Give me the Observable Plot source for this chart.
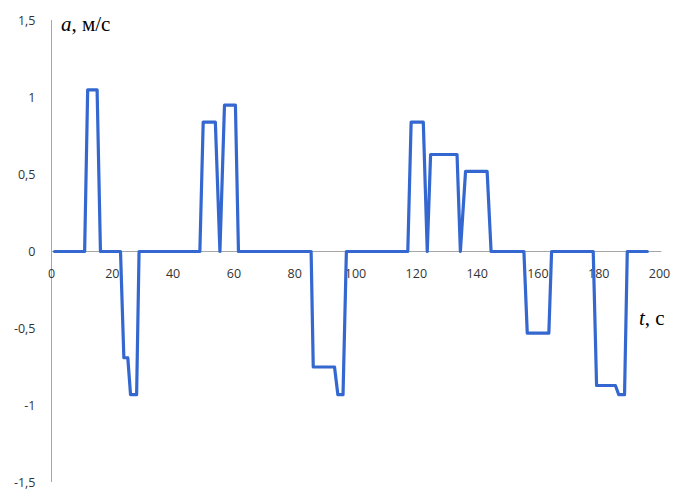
<!DOCTYPE html>
<html><head><meta charset="utf-8">
<script src="https://cdn.jsdelivr.net/npm/d3@7"></script>
<script src="https://cdn.jsdelivr.net/npm/@observablehq/plot@0.6"></script>
<style>
html,body{margin:0;padding:0;background:#fff;}
#wrap{position:relative;width:673px;height:490px;}
.lab{position:absolute;font-family:"Liberation Serif","DejaVu Serif",serif;color:#000;white-space:nowrap;}
</style>
</head><body>
<div id="wrap"></div>
<script>
// time, s
const tValues = [1,10.9,11.9,15,16.1,22.7,23.8,25.1,26,28,28.8,48.8,49.9,53.9,55.4,56.9,60.5,61.5,85.4,86.1,93.1,94.2,95.9,97,117.2,118.3,122.3,123.6,124.7,133.4,134.5,136.2,143.3,144.6,155.4,156.5,163.6,164.5,178.2,179.3,185.5,186.6,188.5,189.4,196];
// acceleration, m/s^2
const aValues = [0,0,1.05,1.05,0,0,-0.69,-0.69,-0.93,-0.93,0,0,0.84,0.84,0,0.95,0.95,0,0,-0.75,-0.75,-0.93,-0.93,0,0,0.84,0.84,0,0.63,0.63,0,0.52,0.52,0,0,-0.53,-0.53,0,0,-0.87,-0.87,-0.93,-0.93,0,0];
const xTicks = [0,20,40,60,80,100,120,140,160,180,200];
const yTicks = [-1.5,-1,-0.5,0,0.5,1,1.5];
const yLabel = ["a", ", м/с"];
const xLabel = ["t", ", с"];

const data = tValues.map((t,i)=>({t, a:aValues[i]}));
const fmt = d => String(d).replace(".", ",");

const chart = Plot.plot({
  width: 673, height: 490,
  marginLeft: 51, marginRight: 14, marginTop: 20, marginBottom: 8,
  x: {domain:[0,200], axis:null},
  y: {domain:[-1.5,1.5], axis:null},
  style: {fontFamily:"'Open Sans', sans-serif", background:"#fff"},
  marks: [
    Plot.ruleY([0], {x1:0, x2:200.8, stroke:"#a6a6a6", strokeWidth:1}),
    Plot.ruleX([0], {y1:-1.5, y2:1.5, stroke:"#a6a6a6", strokeWidth:1}),
    Plot.axisY(yTicks, {label:null, tickSize:0, tickPadding:16, tickFormat:fmt, fontSize:12.5, fill:"#333", textAnchor:"end"}),
    Plot.text(xTicks, {x:d=>d, y:()=>0, dy:22, text:d=>fmt(d), fontSize:12.5, fill:"#333"}),
    Plot.line(data, {x:"t", y:"a", stroke:"#3468d0", strokeWidth:3.2, strokeLinejoin:"round", curve:"linear"})
  ]
});
const wrap = document.getElementById("wrap");
wrap.appendChild(chart);

function addLabel(parts, left, top){
  const d = document.createElement("div");
  d.className = "lab";
  d.style.left = left+"px"; d.style.top = top+"px"; d.style.fontSize = "21px";
  const i = document.createElement("i"); i.textContent = parts[0];
  d.appendChild(i);
  d.appendChild(document.createTextNode(parts[1]));
  wrap.appendChild(d);
}
addLabel(yLabel, 61, 12);
addLabel(xLabel, 639, 306);
</script>
</body></html>
